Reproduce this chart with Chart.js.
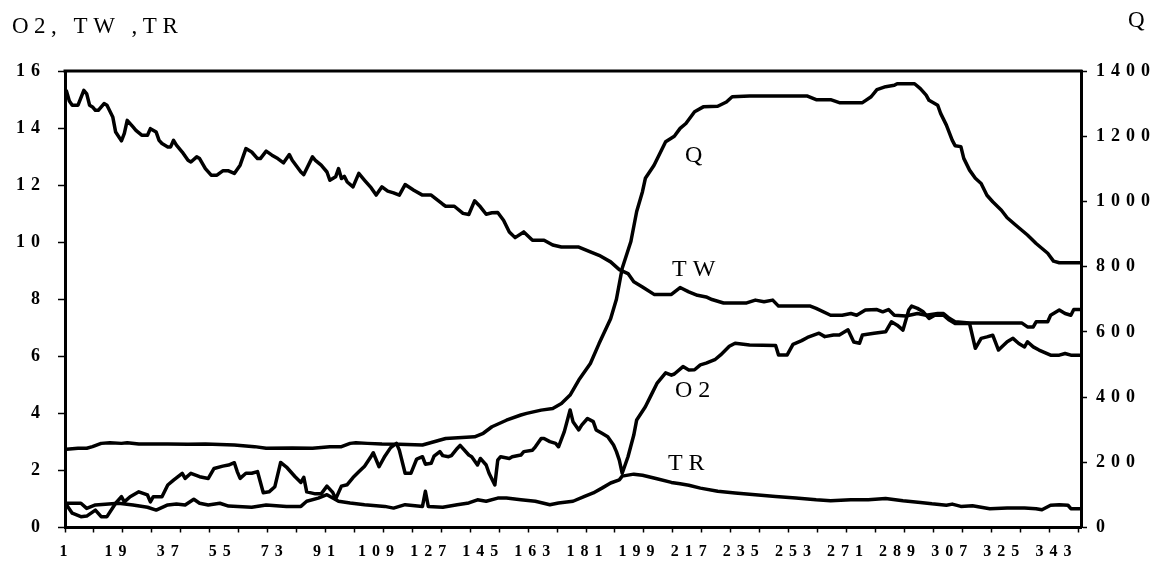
<!DOCTYPE html>
<html><head><meta charset="utf-8">
<script src="https://cdn.jsdelivr.net/npm/chart.js@4/dist/chart.umd.min.js"></script>
<style>html,body{margin:0;padding:0;background:#fff;}canvas{display:block;}</style>
</head><body>
<canvas id="c" width="1163" height="567"></canvas>
<script>
// ---- data (sample index on the category axis, value) ----
const twCat = [1,2,3,5,7,8,9,10,11,12,14,15,17,18,20,21,22,24,25,27,29,30,32,33,34,36,37,38,39,41,43,44,46,47,49,51,53,55,57,59,61,63,65,67,68,70,72,74,76,78,79,82,83,86,87,89,91,92,94,95,96,97,98,100,102,104,106,108,110,112,114,116,118,121,124,127,131,132,135,138,140,142,144,146,148,150,152,154,156,159,162,166,169,172,178,182,185,189,192,195,197,200,204,210,213,216,219,222,224,228,236,239,242,245,247,258,260,265,269,272,274,277,281,283,285,287,291,295,298,302,304,306,308,313,331,333,335,336,340,341,344,346,348,349,351];
const twVal = [15.3,14.95,14.8,14.8,15.32,15.2,14.8,14.74,14.62,14.62,14.86,14.8,14.39,13.86,13.55,13.81,14.27,14.04,13.92,13.75,13.75,13.98,13.86,13.57,13.46,13.34,13.34,13.57,13.4,13.16,12.87,12.81,12.99,12.93,12.58,12.35,12.35,12.5,12.5,12.41,12.7,13.28,13.16,12.93,12.93,13.19,13.05,12.93,12.78,13.07,12.87,12.46,12.37,12.99,12.87,12.7,12.46,12.17,12.29,12.58,12.23,12.31,12.11,11.94,12.41,12.17,11.94,11.65,11.94,11.79,11.73,11.65,12.02,11.82,11.65,11.65,11.33,11.26,11.26,11.01,10.97,11.45,11.24,10.98,11.03,11.04,10.77,10.36,10.16,10.36,10.07,10.07,9.9,9.83,9.83,9.66,9.54,9.31,9.04,8.9,8.61,8.43,8.17,8.17,8.41,8.26,8.14,8.08,7.99,7.87,7.87,7.97,7.91,7.97,7.76,7.76,7.68,7.44,7.44,7.5,7.44,7.62,7.64,7.56,7.64,7.44,7.41,7.5,7.44,7.5,7.5,7.33,7.21,7.17,7.17,7.03,7.03,7.21,7.21,7.44,7.62,7.5,7.44,7.64,7.64];

const o2Cat = [1,3,6,8,11,13,15,18,20,21,23,26,29,30,31,34,36,38,41,42,44,47,50,52,55,57,59,60,61,63,65,67,69,71,73,75,77,80,82,83,84,87,89,91,93,94,96,98,100,102,104,106,107,109,111,113,115,116,118,120,122,124,125,127,128,130,131,133,134,136,137,140,141,143,144,146,147,149,150,151,154,155,158,159,162,163,165,166,168,170,171,173,175,176,178,179,181,183,184,186,188,190,191,192,193,195,197,198,201,203,205,208,210,211,214,216,218,220,222,225,227,230,232,237,246,247,250,252,255,257,261,263,266,268,270,271,273,275,276,280,284,286,288,290,292,293,295,297,299,301,304,306,308,313,315,317,319,321,323,326,328,330,332,333,335,337,341,344,346,348,351];
const o2Val = [0.8,0.5,0.38,0.4,0.61,0.38,0.38,0.85,1.08,0.9,1.08,1.25,1.14,0.9,1.08,1.08,1.49,1.66,1.9,1.72,1.9,1.78,1.72,2.07,2.15,2.19,2.27,1.96,1.72,1.9,1.9,1.96,1.22,1.25,1.43,2.28,2.12,1.78,1.58,1.76,1.25,1.18,1.18,1.45,1.23,1.0,1.45,1.5,1.75,1.95,2.15,2.45,2.62,2.13,2.5,2.8,2.95,2.71,1.9,1.9,2.4,2.48,2.22,2.25,2.5,2.66,2.52,2.48,2.52,2.77,2.88,2.54,2.48,2.19,2.42,2.19,1.9,1.49,2.36,2.48,2.42,2.48,2.54,2.66,2.71,2.83,3.12,3.12,3.01,2.95,2.83,3.36,4.12,3.71,3.42,3.59,3.82,3.71,3.42,3.3,3.18,2.89,2.66,2.36,1.9,2.48,3.24,3.77,4.23,4.64,5.05,5.42,5.34,5.38,5.64,5.52,5.53,5.7,5.76,5.88,6.05,6.35,6.46,6.4,6.38,6.05,6.05,6.42,6.55,6.66,6.81,6.69,6.75,6.75,6.87,6.93,6.5,6.46,6.75,6.81,6.86,7.21,7.09,6.92,7.62,7.76,7.68,7.56,7.33,7.44,7.44,7.27,7.15,7.15,6.28,6.63,6.68,6.74,6.22,6.51,6.63,6.45,6.33,6.51,6.33,6.22,6.04,6.04,6.1,6.04,6.04];

const trCat = [1,6,8,11,19,24,29,32,36,39,42,45,47,50,54,57,65,70,77,82,84,88,91,95,99,104,111,114,118,124,125,126,131,136,140,143,146,150,153,158,163,168,171,176,180,183,186,189,192,193,197,200,205,210,213,216,220,226,232,239,246,253,260,265,272,278,284,290,296,300,305,307,310,314,317,320,326,332,336,338,341,344,347,348,351];
const trVal = [0.85,0.85,0.67,0.79,0.85,0.79,0.71,0.61,0.79,0.82,0.79,0.99,0.85,0.79,0.85,0.75,0.71,0.79,0.74,0.74,0.92,1.03,1.15,0.92,0.86,0.8,0.74,0.68,0.8,0.74,1.27,0.74,0.71,0.8,0.86,0.97,0.92,1.03,1.03,0.97,0.92,0.8,0.86,0.92,1.09,1.21,1.38,1.56,1.67,1.8,1.87,1.83,1.71,1.58,1.53,1.48,1.38,1.27,1.21,1.15,1.09,1.03,0.97,0.94,0.97,0.97,1.02,0.94,0.88,0.83,0.78,0.82,0.74,0.76,0.71,0.66,0.68,0.68,0.66,0.62,0.78,0.8,0.78,0.66,0.66];

const qCat = [1,5,8,10,13,16,20,22,26,36,43,49,59,66,70,79,86,92,96,99,101,105,110,116,124,128,132,142,145,148,153,158,160,165,169,172,175,178,182,185,189,191,193,196,198,200,201,204,206,208,211,213,215,218,221,226,229,231,237,257,260,265,268,276,279,281,284,287,288,294,296,298,299,302,303,305,307,308,310,311,313,315,317,319,321,324,326,329,333,336,340,342,344,351];
const qVal = [240,243,243,248,258,260,258,260,256,256,255,256,253,248,243,244,243,248,248,258,260,258,256,255,253,263,273,278,289,309,329,345,350,360,365,380,406,452,503,564,640,700,795,877,969,1030,1071,1111,1147,1183,1200,1224,1239,1275,1290,1292,1305,1321,1323,1323,1312,1312,1303,1303,1321,1343,1352,1356,1361,1361,1346,1326,1310,1295,1270,1234,1188,1171,1168,1132,1096,1071,1055,1019,999,973,950,927,897,871,841,817,812,812];

const xTickLabels = [1,19,37,55,73,91,109,127,145,163,181,199,217,235,253,271,289,307,325,343];
const categoryCount = 351;
const leftMax = 16, leftStep = 2;
const rightMax = 1400, rightStep = 200;

// ---- presentation ----
const SERIF = '"Liberation Serif", "Times New Roman", serif';
const SPACING = '6px';
const seriesLabels = [
  {text:'Q',  x:214.7, y:12.8},
  {text:'TW', x:210.2, y:8.81},
  {text:'O2', x:211.2, y:4.57},
  {text:'TR', x:208.8, y:2.01}
];

const tickMarks = [];
for (let v = 0.5; v < categoryCount; v += 10) tickMarks.push(v);
const labelSet = new Set(xTickLabels);
const allXTicks = [...new Set([...tickMarks, ...xTickLabels])].sort((a,b)=>a-b);

function pts(xs, ys){ const n = Math.min(xs.length, ys.length); const out=[]; for(let i=0;i<n;i++) out.push({x:xs[i], y:ys[i]}); return out; }

const lineStyle = {borderColor:'#000', borderWidth:3.5, pointRadius:0, tension:0, fill:false, borderJoinStyle:'round', borderCapStyle:'round'};

const textPlugin = {
  id:'texts',
  beforeDraw(chart){ chart.ctx.letterSpacing = SPACING; },
  afterDraw(chart){
    const {ctx, chartArea, scales} = chart;
    ctx.save();
    ctx.strokeStyle = '#000'; ctx.lineWidth = 3;
    ctx.beginPath(); ctx.moveTo(chartArea.left - 1.5, chartArea.top); ctx.lineTo(chartArea.right + 1.5, chartArea.top); ctx.stroke();
    ctx.fillStyle = '#000';
    ctx.textAlign = 'left'; ctx.textBaseline = 'alphabetic';
    ctx.letterSpacing = '5.5px';
    ctx.font = `23px ${SERIF}`;
    ctx.fillText('O2, TW ,TR', 12, 33);
    ctx.fillText('Q', 1128, 27);
    ctx.letterSpacing = '6px';
    ctx.font = `24px ${SERIF}`;
    for (const s of seriesLabels) {
      ctx.fillText(s.text, scales.x.getPixelForValue(s.x), scales.y.getPixelForValue(s.y));
    }
    ctx.restore();
  }
};

const xFont = {family: SERIF, size: 16, weight: 'bold'};
const yFont = {family: SERIF, size: 18, weight: 'bold'};
const plain = (v) => String(v);

new Chart(document.getElementById('c'), {
  type: 'line',
  data: {
    datasets: [
      Object.assign({label:'Q',  data: pts(qCat, qVal),  yAxisID:'y1'}, lineStyle),
      Object.assign({label:'TW', data: pts(twCat, twVal), yAxisID:'y'}, lineStyle),
      Object.assign({label:'O2', data: pts(o2Cat, o2Val), yAxisID:'y'}, lineStyle),
      Object.assign({label:'TR', data: pts(trCat, trVal), yAxisID:'y'}, lineStyle)
    ]
  },
  options: {
    responsive: false,
    animation: false,
    parsing: false,
    layout: {padding: {top: 71, left: 0, right: 0, bottom: 0}},
    plugins: {legend:{display:false}, tooltip:{enabled:false}, title:{display:false}},
    scales: {
      x: {
        type:'linear', position:'bottom', min:0.5, max:categoryCount + 0.5,
        afterBuildTicks(scale){ scale.ticks = allXTicks.map(v => ({value:v})); },
        afterFit(scale){ scale.height = 39.5; },
        ticks: {autoSkip:false, maxRotation:0, minRotation:0, padding:10, color:'#000', font:xFont,
          callback:(v) => labelSet.has(v) ? String(v) : ''},
        grid: {display:true, drawOnChartArea:false, drawTicks:true, tickLength:5, tickWidth:1.5,
          tickColor:(c) => (c.tick && labelSet.has(c.tick.value)) ? 'rgba(0,0,0,0)' : '#000'},
        border: {display:true, color:'#000', width:3}
      },
      y: {
        type:'linear', position:'left', min:0, max:leftMax,
        afterFit(scale){ scale.width = 65; },
        ticks: {stepSize:leftStep, padding:12, color:'#000', font:yFont, callback:plain},
        grid: {display:true, drawOnChartArea:false, tickLength:7, tickWidth:1.5, tickColor:'#000'},
        border: {display:true, color:'#000', width:3}
      },
      y1: {
        type:'linear', position:'right', min:0, max:rightMax,
        afterFit(scale){ scale.width = 82; },
        ticks: {stepSize:rightStep, padding:9, color:'#000', font:yFont, callback:plain},
        grid: {display:true, drawOnChartArea:false, tickLength:6, tickWidth:1.5, tickColor:'#000'},
        border: {display:true, color:'#000', width:3}
      }
    }
  },
  plugins: [textPlugin]
});
</script>
</body></html>
